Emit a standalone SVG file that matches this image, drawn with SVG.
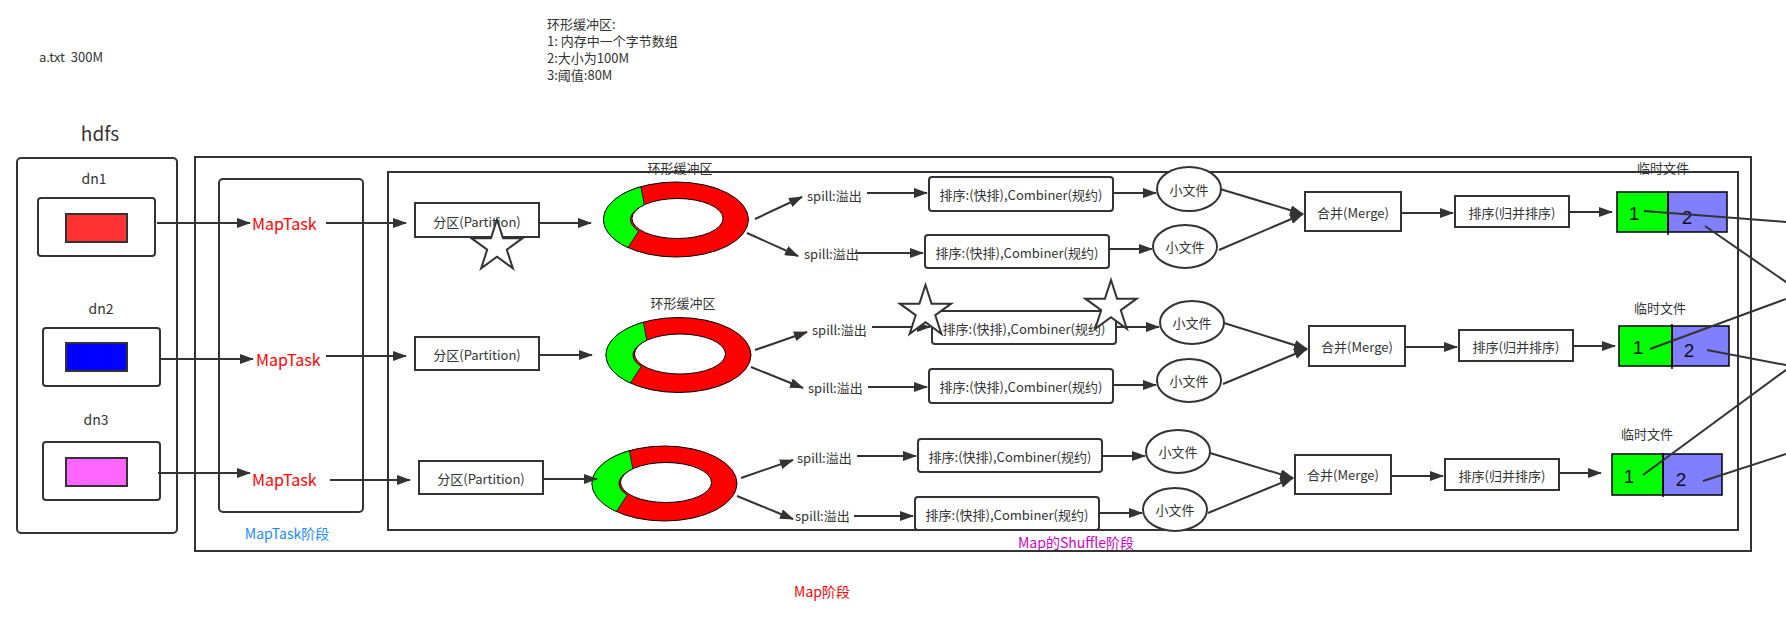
<svg xmlns="http://www.w3.org/2000/svg" width="1786" height="626" viewBox="0 0 1786 626">
<defs>
<marker id="ah" markerUnits="userSpaceOnUse" markerWidth="14" markerHeight="10" refX="13" refY="5" orient="auto"><path d="M0,0 L14,5 L0,10 Z" fill="#333"/></marker>
<path id="star" d="M0,-27 L6.06,-8.34 L25.68,-8.34 L9.81,3.19 L15.87,21.84 L0,10.31 L-15.87,21.84 L-9.81,3.19 L-25.68,-8.34 L-6.06,-8.34 Z"/>
<g id="ring">
<ellipse cx="0" cy="0" rx="72.5" ry="37.5" fill="#ff0000" stroke="#000" stroke-width="1"/>
<path d="M-35.15,-32.8 A72.5 37.5 0 0 0 -48.04,28.09 L-37.3,11.5 A45.5 20 0 0 1 -31.61,-14.39 Z" fill="#00ff00" stroke="#000" stroke-width="0.8"/>
<ellipse cx="1.5" cy="-1" rx="45.5" ry="20" fill="#fff" stroke="#000" stroke-width="1"/>
</g>
</defs>
<style>
text{font-family:"Noto Sans CJK SC","Microsoft YaHei",sans-serif;fill:#333;font-size:13px}
.c{text-anchor:middle;dominant-baseline:central}
.s{dominant-baseline:central}
.f14{font-size:14px}
.f19{font-size:19px}
.box{fill:#fff;stroke:#333;stroke-width:2}
.frame{fill:none;stroke:#333;stroke-width:2}
.ln{stroke:#333;stroke-width:2;fill:none}
.arr{stroke:#333;stroke-width:2;fill:none;marker-end:url(#ah)}
.star{fill:#fff;stroke:#333;stroke-width:2}
.num{font-family:"Liberation Sans",Arial,sans-serif;font-size:19px;fill:#111}
.mt{fill:#ff0000;font-size:16px}
.tf{stroke:#000;stroke-width:1.5}
</style>
<rect width="1786" height="626" fill="#fff"/>

<g id="labels">
<text class="s" x="39" y="56" xml:space="preserve">a.txt  300M</text>
<text class="s" x="547" y="23">环形缓冲区:</text>
<text class="s" x="547" y="40">1: 内存中一个字节数组</text>
<text class="s" x="547" y="57">2:大小为100M</text>
<text class="s" x="547" y="74">3:阈值:80M</text>
<text class="c f19" x="100" y="132">hdfs</text>
<text class="c f14" x="287" y="533" style="fill:#1a8cff">MapTask阶段</text>
<text class="c f14" x="1076" y="542" style="fill:#cc00cc">Map的Shuffle阶段</text>
<text class="c f14" x="822" y="591" style="fill:#ff0000">Map阶段</text>
</g>

<g id="frames">
<rect class="frame" x="195" y="157" width="1556" height="394"/>
<rect class="frame" x="388" y="172" width="1350" height="358"/>
<rect class="frame" x="219" y="179" width="144" height="333" rx="4"/>
<rect class="frame" x="17" y="158" width="160" height="375" rx="4"/>
</g>

<g id="dn1">
<text class="c f14" x="94" y="178">dn1</text>
<rect class="box" x="38" y="198" width="117" height="58" rx="3"/>
<rect x="66" y="214" width="61" height="28" fill="#ff3333" stroke="#333" stroke-width="2"/>
</g>
<g id="dn2">
<text class="c f14" x="101" y="308">dn2</text>
<rect class="box" x="43" y="328" width="117" height="58" rx="3"/>
<rect x="66" y="343" width="61" height="28" fill="#0000ff" stroke="#333" stroke-width="2"/>
</g>
<g id="dn3">
<text class="c f14" x="96" y="419">dn3</text>
<rect class="box" x="43" y="442" width="117" height="58" rx="3"/>
<rect x="66" y="458" width="61" height="28" fill="#ff66ff" stroke="#333" stroke-width="2"/>
</g>

<g id="maptask1"><text class="s mt" x="252" y="223">MapTask</text></g>
<g id="maptask2"><text class="s mt" x="256" y="359">MapTask</text></g>
<g id="maptask3"><text class="s mt" x="252" y="479">MapTask</text></g>

<g id="part1"><rect class="box" x="415" y="203" width="124" height="34"/><text class="c" x="477" y="221">分区(Partition)</text></g>
<g id="part2"><rect class="box" x="415" y="337" width="124" height="33"/><text class="c" x="477" y="354">分区(Partition)</text></g>
<g id="part3"><rect class="box" x="419" y="461" width="124" height="33"/><text class="c" x="481" y="478">分区(Partition)</text></g>

<g id="ring1"><text class="c" x="680" y="167">环形缓冲区</text><use href="#ring" x="676" y="219.5"/></g>
<g id="ring2"><text class="c" x="683" y="302">环形缓冲区</text><use href="#ring" x="678.5" y="355"/></g>
<g id="ring3"><use href="#ring" x="664.5" y="483.5"/></g>

<g id="spills">
<text class="s" x="807" y="195">spill:溢出</text>
<text class="s" x="804" y="253">spill:溢出</text>
<text class="s" x="812" y="329">spill:溢出</text>
<text class="s" x="808" y="387">spill:溢出</text>
<text class="s" x="797" y="457">spill:溢出</text>
<text class="s" x="795" y="515">spill:溢出</text>
</g>

<g id="sort1a"><rect class="box" x="929" y="177" width="184" height="34" rx="3"/><text class="c" x="1021" y="194">排序:(快排),Combiner(规约)</text></g>
<g id="sort1b"><rect class="box" x="925" y="235" width="184" height="33" rx="3"/><text class="c" x="1017" y="252">排序:(快排),Combiner(规约)</text></g>
<g id="sort2a"><rect class="box" x="932" y="311" width="184" height="33" rx="3"/><text class="c" x="1024" y="328">排序:(快排),Combiner(规约)</text></g>
<g id="sort2b"><rect class="box" x="929" y="369" width="184" height="34" rx="3"/><text class="c" x="1021" y="386">排序:(快排),Combiner(规约)</text></g>
<g id="sort3a"><rect class="box" x="918" y="439" width="184" height="33" rx="3"/><text class="c" x="1010" y="456">排序:(快排),Combiner(规约)</text></g>
<g id="sort3b"><rect class="box" x="915" y="497" width="184" height="33" rx="3"/><text class="c" x="1007" y="514">排序:(快排),Combiner(规约)</text></g>

<g id="file1a"><ellipse class="box" cx="1189" cy="189" rx="32" ry="22"/><text class="c" x="1189" y="189">小文件</text></g>
<g id="file1b"><ellipse class="box" cx="1185" cy="246.5" rx="32" ry="21.5"/><text class="c" x="1185" y="246">小文件</text></g>
<g id="file2a"><ellipse class="box" cx="1192" cy="322.5" rx="32" ry="21.5"/><text class="c" x="1192" y="322">小文件</text></g>
<g id="file2b"><ellipse class="box" cx="1189" cy="380.5" rx="32" ry="21.5"/><text class="c" x="1189" y="380">小文件</text></g>
<g id="file3a"><ellipse class="box" cx="1178" cy="451.5" rx="32" ry="21.5"/><text class="c" x="1178" y="451">小文件</text></g>
<g id="file3b"><ellipse class="box" cx="1175" cy="509.5" rx="32" ry="21.5"/><text class="c" x="1175" y="509">小文件</text></g>

<g id="merge1"><rect class="box" x="1305" y="192" width="96" height="39"/><text class="c" x="1353" y="212">合并(Merge)</text></g>
<g id="merge2"><rect class="box" x="1309" y="326" width="96" height="40"/><text class="c" x="1357" y="346">合并(Merge)</text></g>
<g id="merge3"><rect class="box" x="1295" y="455" width="96" height="39"/><text class="c" x="1343" y="474">合并(Merge)</text></g>

<g id="msort1"><rect class="box" x="1455" y="196" width="114" height="31"/><text class="c" x="1512" y="212">排序(归并排序)</text></g>
<g id="msort2"><rect class="box" x="1459" y="330" width="114" height="31"/><text class="c" x="1516" y="346">排序(归并排序)</text></g>
<g id="msort3"><rect class="box" x="1445" y="459" width="114" height="31"/><text class="c" x="1502" y="475">排序(归并排序)</text></g>

<g id="temp1">
<text class="c" x="1663" y="167">临时文件</text>
<rect class="tf" x="1617" y="192" width="51" height="40" fill="#00ff00"/>
<rect class="tf" x="1668" y="192" width="59" height="40" fill="#8080ff"/>
<line x1="1668" y1="192" x2="1668" y2="235" stroke="#000" stroke-width="1.5"/>
<text class="c num" x="1634" y="213">1</text><text class="c num" x="1687" y="217">2</text>
</g>
<g id="temp2">
<text class="c" x="1660" y="307">临时文件</text>
<rect class="tf" x="1619" y="326" width="53" height="40" fill="#00ff00"/>
<rect class="tf" x="1672" y="326" width="57" height="40" fill="#8080ff"/>
<line x1="1672" y1="324" x2="1672" y2="369" stroke="#000" stroke-width="1.5"/>
<text class="c num" x="1638" y="347">1</text><text class="c num" x="1689" y="350">2</text>
</g>
<g id="temp3">
<text class="c" x="1647" y="433">临时文件</text>
<rect class="tf" x="1612" y="454" width="51" height="41" fill="#00ff00"/>
<rect class="tf" x="1663" y="454" width="59" height="41" fill="#8080ff"/>
<line x1="1663" y1="453" x2="1663" y2="497" stroke="#000" stroke-width="1.5"/>
<text class="c num" x="1629" y="476">1</text><text class="c num" x="1681" y="479">2</text>
</g>

<g id="connectors">
<line class="arr" x1="157" y1="223" x2="250" y2="223"/>
<line class="arr" x1="161" y1="359" x2="253" y2="359"/>
<line class="arr" x1="158" y1="473" x2="250" y2="473"/>
<line class="arr" x1="326" y1="223" x2="406" y2="223"/>
<line class="arr" x1="326" y1="356" x2="406" y2="356"/>
<line class="arr" x1="330" y1="480" x2="410" y2="480"/>
<line class="arr" x1="539" y1="223" x2="591" y2="223"/>
<line class="arr" x1="539" y1="355" x2="592" y2="355"/>
<line class="arr" x1="543" y1="479" x2="597" y2="479"/>
<line class="arr" x1="755" y1="219" x2="802" y2="197"/>
<line class="arr" x1="747" y1="233" x2="798" y2="256"/>
<line class="arr" x1="755" y1="350" x2="807" y2="332"/>
<line class="arr" x1="751" y1="367" x2="803" y2="388"/>
<line class="arr" x1="741" y1="478" x2="793" y2="460"/>
<line class="arr" x1="737" y1="496" x2="793" y2="519"/>
<line class="arr" x1="867" y1="193" x2="927" y2="193"/>
<line class="arr" x1="855" y1="253" x2="923" y2="253"/>
<line class="arr" x1="872" y1="327" x2="930" y2="327"/>
<line class="arr" x1="868" y1="387" x2="927" y2="387"/>
<line class="arr" x1="857" y1="456" x2="916" y2="456"/>
<line class="arr" x1="854" y1="516" x2="913" y2="516"/>
<line class="arr" x1="1113" y1="193" x2="1156" y2="193"/>
<line class="arr" x1="1109" y1="249" x2="1152" y2="249"/>
<line class="arr" x1="1116" y1="327" x2="1159" y2="327"/>
<line class="arr" x1="1113" y1="385" x2="1156" y2="385"/>
<line class="arr" x1="1102" y1="456" x2="1145" y2="456"/>
<line class="arr" x1="1099" y1="513" x2="1142" y2="513"/>
<line class="arr" x1="1220" y1="189" x2="1303" y2="214"/>
<line class="arr" x1="1219" y1="250" x2="1303" y2="214"/>
<line class="arr" x1="1224" y1="323" x2="1307" y2="349"/>
<line class="arr" x1="1223" y1="384" x2="1307" y2="349"/>
<line class="arr" x1="1210" y1="453" x2="1293" y2="478"/>
<line class="arr" x1="1208" y1="513" x2="1293" y2="478"/>
<line class="arr" x1="1401" y1="213" x2="1453" y2="213"/>
<line class="arr" x1="1405" y1="347" x2="1457" y2="347"/>
<line class="arr" x1="1391" y1="476" x2="1443" y2="476"/>
<line class="arr" x1="1569" y1="212" x2="1612" y2="212"/>
<line class="arr" x1="1573" y1="346" x2="1615" y2="346"/>
<line class="arr" x1="1559" y1="473" x2="1601" y2="473"/>
<line class="ln" x1="1644" y1="211" x2="1790" y2="222.3"/>
<line class="ln" x1="1705" y1="226" x2="1790" y2="284.8"/>
<line class="ln" x1="1650" y1="349" x2="1790" y2="297.5"/>
<line class="ln" x1="1707" y1="350" x2="1790" y2="365.8"/>
<line class="ln" x1="1643" y1="475" x2="1790" y2="367"/>
<line class="ln" x1="1703" y1="481" x2="1790" y2="452.7"/>
</g>

<g id="stars">
<use href="#star" class="star" x="497" y="246.5"/>
<use href="#star" class="star" x="925.5" y="312"/>
<use href="#star" class="star" x="1111" y="307"/>
</g>
</svg>
